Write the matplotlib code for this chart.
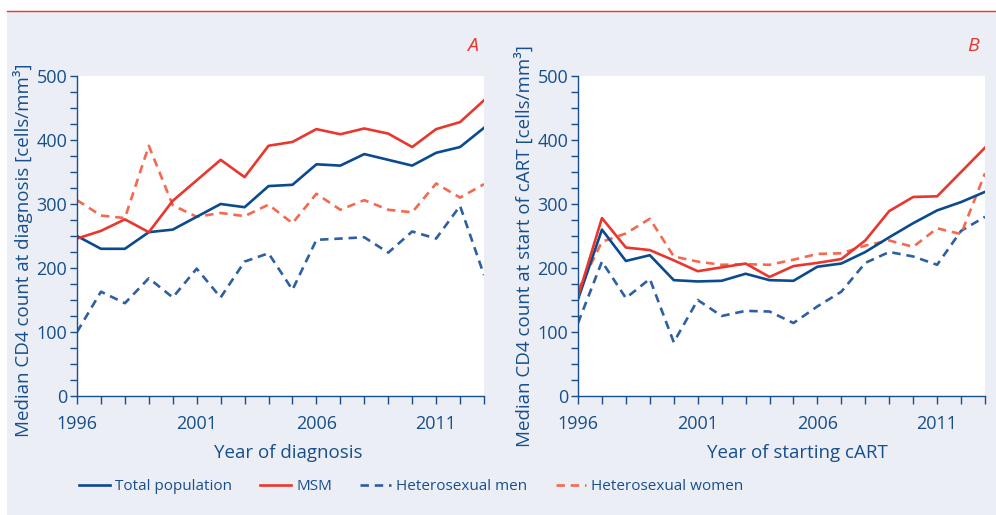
import matplotlib
matplotlib.use("Agg")
import matplotlib.pyplot as plt
from matplotlib.lines import Line2D
from matplotlib.patches import Rectangle
from matplotlib.ticker import MultipleLocator

plt.rcParams["font.family"] = ["Open Sans", "DejaVu Sans"]

years = list(range(1996, 2014))

# Panel A: year of diagnosis
diag_total = [250, 230, 230, 256, 260, 280, 300, 295, 328, 330, 362, 360, 378, 369, 360, 380, 389, 419]
diag_msm = [246, 258, 276, 256, 305, 337, 369, 342, 391, 397, 417, 409, 418, 410, 389, 417, 428, 462]
diag_het_men = [100, 163, 145, 184, 154, 199, 154, 210, 223, 166, 244, 246, 248, 224, 257, 246, 297, 189]
diag_het_women = [306, 282, 278, 391, 298, 280, 286, 281, 299, 270, 316, 291, 306, 291, 287, 332, 310, 331]

# Panel B: year of starting cART
cart_total = [151, 260, 211, 220, 181, 179, 180, 191, 181, 180, 202, 207, 225, 248, 270, 290, 303, 319]
cart_msm = [155, 278, 232, 228, 212, 195, 201, 207, 186, 203, 208, 214, 243, 289, 311, 312, 350, 388]
cart_het_men = [114, 210, 153, 183, 84, 150, 125, 133, 132, 114, 140, 163, 208, 225, 218, 205, 258, 280]
cart_het_women = [165, 241, 254, 277, 218, 210, 205, 206, 205, 213, 222, 223, 235, 243, 233, 262, 253, 348]

labels = ["Total population", "MSM", "Heterosexual men", "Heterosexual women"]
year_ticks = [1996, 2001, 2006, 2011]

TXT = "#174f8c"
C_TOTAL = "#0b4a8e"
C_MSM = "#e8372d"
C_HMEN = "#2d5fa2"
C_HWOM = "#f4694f"
BG = "#eceef6"

W, H = 996, 515
fig = plt.figure(figsize=(W / 100, H / 100), dpi=100, facecolor="white")

# background panel and red rule on top
fig.add_artist(Rectangle((7 / W, 0), 1, 1 - 11 / H, transform=fig.transFigure,
                         facecolor=BG, edgecolor="none", zorder=-10))
fig.add_artist(Line2D([7 / W, 1], [1 - 11 / H, 1 - 11 / H], transform=fig.transFigure,
                      color="#e8372d", lw=1.0))

dash = (0, (3.2, 2.2))
lw = 1.9


def make_panel(left_px, series, ylabel, xlabel, letter, ylab_y, xlab_x):
    ax = fig.add_axes([left_px / W, (H - 396) / H, 407 / W, 320 / H])
    ax.set_facecolor("white")
    total, msm, hmen, hwom = series
    ax.plot(years, hmen, color=C_HMEN, lw=lw, linestyle=dash, label=labels[2])
    ax.plot(years, hwom, color=C_HWOM, lw=lw, linestyle=dash, label=labels[3])
    ax.plot(years, total, color=C_TOTAL, lw=lw, label=labels[0])
    ax.plot(years, msm, color=C_MSM, lw=lw, label=labels[1])

    ax.set_xlim(1996, 2013)
    ax.set_ylim(0, 500)
    ax.set_xticks(year_ticks)
    ax.xaxis.set_minor_locator(MultipleLocator(1))
    ax.yaxis.set_major_locator(MultipleLocator(100))
    ax.yaxis.set_minor_locator(MultipleLocator(25))
    for s in ["top", "right"]:
        ax.spines[s].set_visible(False)
    for s in ["left", "bottom"]:
        ax.spines[s].set_color(TXT)
        ax.spines[s].set_linewidth(1.0)
    ax.tick_params(axis="both", which="both", direction="out", colors=TXT,
                   labelsize=13, width=1.0)
    ax.tick_params(axis="x", which="both", length=6, pad=8)
    ax.tick_params(axis="y", which="both", length=5, pad=2)
    ax.set_ylabel(ylabel, fontsize=13.5, color=TXT)
    ax.yaxis.set_label_coords(-0.108, ylab_y)
    ax.set_xlabel(xlabel, fontsize=13.5, color=TXT)
    ax.xaxis.set_label_coords(xlab_x, -0.15)
    ax.text(0.985, 1.094, letter, transform=ax.transAxes, ha="right", va="center",
            fontsize=14, style="italic", color=C_MSM)
    return ax


axA = make_panel(77, (diag_total, diag_msm, diag_het_men, diag_het_women),
                 "Median CD4 count at diagnosis [cells/mm³]", "Year of diagnosis",
                 "A", 0.455, 0.52)
axB = make_panel(578, (cart_total, cart_msm, cart_het_men, cart_het_women),
                 "Median CD4 count at start of cART [cells/mm³]", "Year of starting cART",
                 "B", 0.47, 0.54)

handles = [
    Line2D([], [], color=C_TOTAL, lw=lw),
    Line2D([], [], color=C_MSM, lw=lw),
    Line2D([], [], color=C_HMEN, lw=lw, linestyle=dash),
    Line2D([], [], color=C_HWOM, lw=lw, linestyle=dash),
]
leg = fig.legend(handles, labels, loc="center left", bbox_to_anchor=(79 / W, 1 - 487 / H),
                 ncol=4, frameon=False, fontsize=11, handlelength=2.0,
                 handletextpad=0.35, columnspacing=1.85, borderpad=0, borderaxespad=0)
for t in leg.get_texts():
    t.set_color(TXT)

fig.savefig("out.png", dpi=100, facecolor="white")
